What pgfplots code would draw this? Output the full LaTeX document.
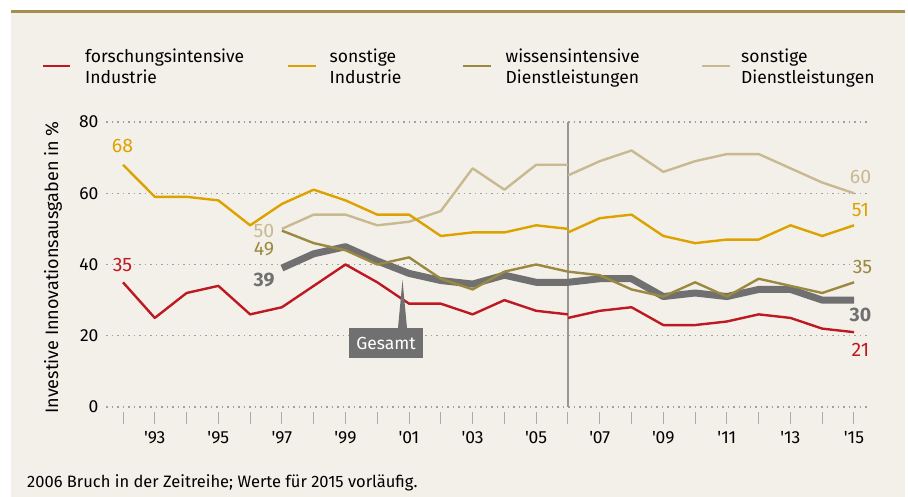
\documentclass[border=0pt]{standalone}
\usepackage{fontspec}
\setmainfont{Fira Sans}
\newfontfamily\tickfont{Fira Sans}
\usepackage{pgfplots}
\pgfplotsset{compat=1.18}
\definecolor{bg}{RGB}{243,240,234}
\definecolor{topline}{RGB}{163,143,75}
\definecolor{cred}{RGB}{190,24,34}
\definecolor{cyellow}{RGB}{222,162,0}
\definecolor{colive}{RGB}{155,137,64}
\definecolor{ctan}{RGB}{200,185,145}
\definecolor{cgray}{RGB}{112,112,112}
\definecolor{gridgray}{RGB}{160,160,160}
\definecolor{tickgray}{RGB}{170,170,170}
\definecolor{breakgray}{RGB}{150,150,150}
\begin{document}
\begin{tikzpicture}[x=1bp,y=1bp]
\fill[white] (0,0) rectangle (908,497);
\fill[bg] (11,0) rectangle (905,486.5);
\draw[topline, line width=2.7bp] (11,485.6) -- (905,485.6);
\begin{axis}[
  at={(106bp,90bp)}, anchor=south west,
  scale only axis, width=762bp, height=285bp,
  xmin=1991.465, xmax=2015.44, ymin=0, ymax=80,
  axis line style={draw=none},
  ytick={0,20,40,60,80}, ytick style={draw=none},
  ymajorgrids,
  major grid style={draw=gridgray, line width=1.3bp, dash pattern=on 1.6bp off 3.9bp},
  xtick={1992,...,2015},
  xticklabels={,'93,,'95,,'97,,'99,,'01,,'03,,'05,,'07,,'09,,'11,,'13,,'15},
  xtick pos=bottom, ytick pos=left,
  xtick align=outside,
  major tick length=12bp,
  xtick style={draw=tickgray, line width=1bp, yshift=-5bp},
  tick label style={font=\fontsize{17.5bp}{20bp}\selectfont},
  yticklabel style={xshift=-4bp},
  xticklabel style={font=\tickfont\fontsize{17.5bp}{20bp}\selectfont, yshift=-9bp},
  /pgf/number format/assume math mode=true,
  clip=false,
]
\draw[breakgray, line width=1.3bp] (axis cs:2006,0) -- (axis cs:2006,80);
% Gesamt
\addplot[cgray, line width=7bp, line join=round] coordinates {
(1997,39) (1998,43) (1999,45) (2000,41) (2001,37.5) (2002,35.5) (2003,34.5) (2004,37) (2005,35) (2006,35) (2007,36) (2008,36) (2009,31) (2010,32) (2011,31) (2012,33) (2013,33) (2014,30) (2015,30)};
% sonstige Dienstleistungen
\addplot[ctan, line width=2.4bp, line join=round] coordinates {
(1997,50) (1998,54) (1999,54) (2000,51) (2001,52) (2002,55) (2003,67) (2004,61) (2005,68) (2006,68)};
\addplot[ctan, line width=2.4bp, line join=round] coordinates {
(2006,65) (2007,69) (2008,72) (2009,66) (2010,69) (2011,71) (2012,71) (2013,67) (2014,63) (2015,60)};
% wissensintensive Dienstleistungen
\addplot[colive, line width=2.4bp, line join=round] coordinates {
(1997,49.5) (1998,46) (1999,44) (2000,40) (2001,42) (2002,36) (2003,33) (2004,38) (2005,40) (2006,38)};
\addplot[colive, line width=2.4bp, line join=round] coordinates {
(2006,38) (2007,37) (2008,33) (2009,31) (2010,35) (2011,31) (2012,36) (2013,34) (2014,32) (2015,35)};
% sonstige Industrie
\addplot[cyellow, line width=2.4bp, line join=round] coordinates {
(1992,68) (1993,59) (1994,59) (1995,58) (1996,51) (1997,57) (1998,61) (1999,58) (2000,54) (2001,54) (2002,48) (2003,49) (2004,49) (2005,51) (2006,50)};
\addplot[cyellow, line width=2.4bp, line join=round] coordinates {
(2006,49) (2007,53) (2008,54) (2009,48) (2010,46) (2011,47) (2012,47) (2013,51) (2014,48) (2015,51)};
% forschungsintensive Industrie
\addplot[cred, line width=2.4bp, line join=round] coordinates {
(1992,35) (1993,25) (1994,32) (1995,34) (1996,26) (1997,28) (1998,34) (1999,40) (2000,35) (2001,29) (2002,29) (2003,26) (2004,30) (2005,27) (2006,26)};
\addplot[cred, line width=2.4bp, line join=round] coordinates {
(2006,25) (2007,27) (2008,28) (2009,23) (2010,23) (2011,24) (2012,26) (2013,25) (2014,22) (2015,21)};
\end{axis}
% y label
\node[rotate=90, anchor=base, font=\fontsize{18bp}{20bp}\selectfont] at (58,229.5) {Investive Innovationsausgaben in \%};
% legend
\begin{scope}[font=\fontsize{17.5bp}{20bp}\selectfont]
\draw[cred, line width=2.6bp] (43,431) -- (70,431);
\node[anchor=base west, inner sep=0] at (85,434.5) {forschungsintensive};
\node[anchor=base west, inner sep=0] at (85,413) {Industrie};
\draw[cyellow, line width=2.6bp] (288,431) -- (316,431);
\node[anchor=base west, inner sep=0] at (329.5,434.5) {sonstige};
\node[anchor=base west, inner sep=0] at (329.5,413) {Industrie};
\draw[colive, line width=2.6bp] (463,431) -- (491,431);
\node[anchor=base west, inner sep=0] at (505.5,434.5) {wissensintensive};
\node[anchor=base west, inner sep=0] at (505.5,413) {Dienstleistungen};
\draw[ctan, line width=2.6bp] (702,431) -- (730,431);
\node[anchor=base west, inner sep=0] at (741,434.5) {sonstige};
\node[anchor=base west, inner sep=0] at (741,413) {Dienstleistungen};
\end{scope}
% value labels
\begin{scope}[font=\fontsize{19.5bp}{22bp}\selectfont, inner sep=0]
\node[anchor=base, text=cyellow] at (122.5,344) {68};
\node[anchor=base, text=cred] at (122.5,225) {35};
\node[anchor=base, text=ctan] at (264,259.5) {50};
\node[anchor=base, text=colive] at (264,241) {49};
\node[anchor=base, text=cgray, font=\fontsize{19.5bp}{22bp}\selectfont\bfseries] at (264,210) {39};
\node[anchor=base, text=ctan] at (860.5,313) {60};
\node[anchor=base, text=cyellow] at (860.5,280) {51};
\node[anchor=base, text=colive] at (862.5,223) {35};
\node[anchor=base, text=cgray, font=\fontsize{19.5bp}{22bp}\selectfont\bfseries] at (860.5,175) {30};
\node[anchor=base, text=cred] at (860.5,140) {21};
\end{scope}
% Gesamt callout
\fill[cgray] (398,169) -- (402.5,217) -- (407,169) -- cycle;
\fill[cgray] (349,139) rectangle (423,169);
\node[text=white, font=\fontsize{17.5bp}{20bp}\selectfont] at (386,154) {Gesamt};
% footnote
\node[anchor=base west, inner sep=0, font=\fontsize{16.5bp}{19bp}\selectfont] at (27,9) {2006 Bruch in der Zeitreihe; Werte für 2015 vorläufig.};
\end{tikzpicture}
\end{document}
